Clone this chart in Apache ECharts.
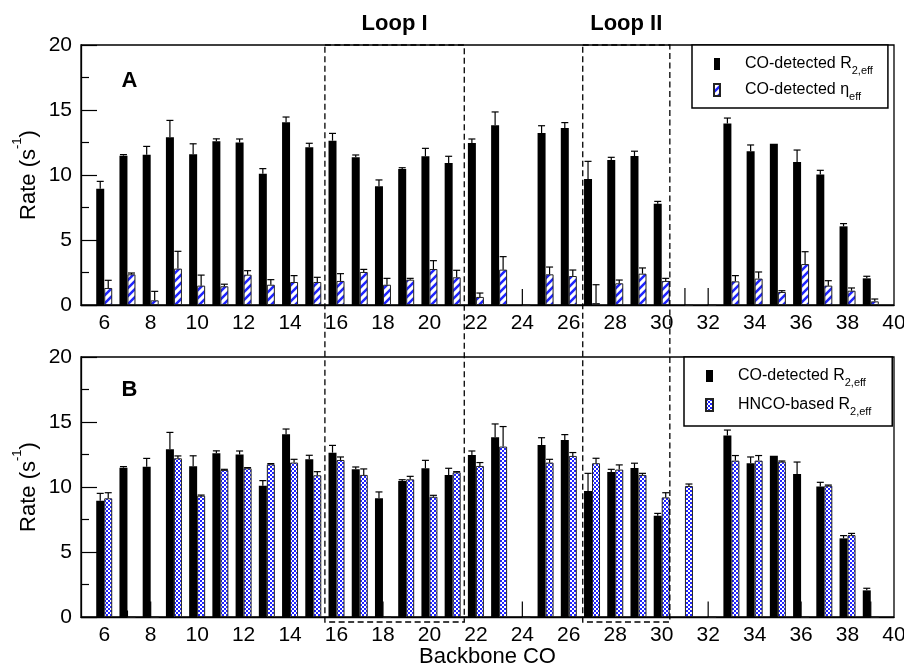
<!DOCTYPE html>
<html>
<head>
<meta charset="utf-8">
<script src="https://cdn.jsdelivr.net/npm/echarts@6/dist/echarts.min.js"></script>
<style>
  html, body { margin: 0; padding: 0; background: #fff; }
  #chart { width: 904px; height: 669px; }
</style>
</head>
<body>
<div id="chart"></div>
<script>
// Backbone carbonyl positions shown on the x axis (residues 5..40)
const residues = [5, 6, 7, 8, 9, 10, 11, 12, 13, 14, 15, 16, 17, 18, 19, 20, 21, 22, 23,
  24, 25, 26, 27, 28, 29, 30, 31, 32, 33, 34, 35, 36, 37, 38, 39, 40];

// CO-detected R2,eff (s^-1) and its error
const coR2 = [null, 8.95, 11.49, 11.56, 12.9, 11.6, 12.6, 12.5, 10.1, 14.05, 12.13, 12.64,
  11.36, 9.13, 10.46, 11.44, 10.92, 12.46, 13.82, 0, 13.23, 13.62, 9.69, 11.15, 11.46, 7.79,
  0, 0, 13.97, 11.82, 12.41, 11.0, 10.03, 6.05, 2.05, null];
const coR2Err = [null, 0.56, 0.08, 0.64, 1.3, 0.8, 0.18, 0.27, 0.39, 0.41, 0.31, 0.56,
  0.18, 0.49, 0.1, 0.61, 0.52, 0.31, 1.03, 0, 0.56, 0.41, 1.36, 0.21, 0.37, 0.18,
  0, 0, 0.41, 0.49, 0, 0.92, 0.33, 0.21, 0.16, null];

// CO-detected eta_eff (s^-1) and its error
const coEta = [null, 1.31, 2.36, 0.36, 2.8, 1.49, 1.44, 2.33, 1.56, 1.77, 1.77, 1.85,
  2.54, 1.56, 1.95, 2.77, 2.13, 0.62, 2.72, 0, 2.36, 2.23, 0.15, 1.67, 2.41, 1.85,
  0, 0, 1.82, 2.03, 1.0, 3.15, 1.49, 1.1, 0.28, null];
const coEtaErr = [null, 0.59, 0.1, 0.69, 1.33, 0.81, 0.16, 0.31, 0.39, 0.49, 0.36, 0.56,
  0.2, 0.49, 0.1, 0.64, 0.54, 0.3, 1.0, 1.23, 0.56, 0.46, 1.41, 0.25, 0.44, 0.2,
  1.3, 1.3, 0.44, 0.51, 0.1, 0.95, 0.38, 0.21, 0.18, null];

// HNCO-based R2,eff (s^-1) and its error
const hncoR2 = [null, 9.13, 0, 0, 12.21, 9.33, 11.31, 11.44, 11.75, 11.88, 10.9, 12.08,
  10.93, 0, 10.59, 9.25, 11.13, 11.62, 13.11, 0, 11.88, 12.39, 11.83, 11.34, 10.93, 9.2,
  10.08, 0, 12.03, 12.03, 11.95, 0, 10.1, 6.3, 0, null];
const hncoR2Err = [null, 0.43, 0.5, 1.2, 0.18, 0.05, 0.05, 0.05, 0.05, 0.25, 0.28, 0.23,
  0.46, 1.2, 0.23, 0.11, 0.05, 0.26, 1.54, 1.2, 0.25, 0.26, 0.38, 0.36, 0.12, 0.36,
  0.15, 1.2, 0.39, 0.39, 0.05, 1.2, 0.05, 0.13, 1.2, null];

// Rate axis ticks
const rateTicks = { min: 0, max: 20, step: 5 };

// Loop regions along the backbone (residue coordinates of the dashed boxes)
const loops = [
  { label: 'Loop I', from: 15.5, to: 21.5 },
  { label: 'Loop II', from: 26.6, to: 30.35 }
];

const NAME_R2 = 'CO-detected R2,eff';
const NAME_ETA = 'CO-detected \u03b7eff';
const NAME_HNCO = 'HNCO-based R2,eff';
const legendText = {};
legendText[NAME_R2] = ['CO-detected R', '2,eff'];
legendText[NAME_ETA] = ['CO-detected \u03b7', 'eff'];
legendText[NAME_HNCO] = ['HNCO-based R', '2,eff'];

const FONT = "'Liberation Sans', Arial, Helvetica, sans-serif";
const BLUE = '#1f24ff';

// Fill patterns: diagonal hatching and a fine checkerboard
function hatchTile() {
  const c = document.createElement('canvas');
  c.width = 8; c.height = 8;
  const g = c.getContext('2d');
  g.fillStyle = '#fff';
  g.fillRect(0, 0, 8, 8);
  g.strokeStyle = BLUE;
  g.lineWidth = 2.5;
  g.beginPath();
  g.moveTo(-2, 2); g.lineTo(2, -2);
  g.moveTo(0, 8); g.lineTo(8, 0);
  g.moveTo(6, 10); g.lineTo(10, 6);
  g.stroke();
  return c;
}
function checkerTile() {
  const c = document.createElement('canvas');
  c.width = 4; c.height = 4;
  const g = c.getContext('2d');
  g.fillStyle = '#fff';
  g.fillRect(0, 0, 4, 4);
  g.fillStyle = BLUE;
  g.fillRect(0, 0, 2, 2);
  g.fillRect(2, 2, 2, 2);
  return c;
}
const hatchFill = { image: hatchTile(), repeat: 'repeat' };
const checkerFill = { image: checkerTile(), repeat: 'repeat' };

const BAR_W = 8;

// Upward error bars; a zero-height entry gets a plain line at the residue centre
function errorRenderer(offset) {
  return function (params, api) {
    const v = api.value(1), e = api.value(2);
    if (!(e > 0)) return;
    const base = api.coord([api.value(0), v]);
    const tip = api.coord([api.value(0), v + e]);
    const style = { stroke: '#000', lineWidth: 1.2 };
    if (v === 0) {
      return { type: 'line', shape: { x1: base[0], y1: base[1], x2: base[0], y2: tip[1] }, style };
    }
    const x = base[0] + offset;
    return {
      type: 'group',
      children: [
        { type: 'line', shape: { x1: x, y1: base[1], x2: x, y2: tip[1] }, style },
        { type: 'line', shape: { x1: x - 3.5, y1: tip[1], x2: x + 3.5, y2: tip[1] }, style }
      ]
    };
  };
}
function errorData(values, errs) {
  const out = [];
  values.forEach((v, i) => { if (v != null) out.push([i, v, errs[i]]); });
  return out;
}

function xAxisFor(gridIndex, withName) {
  return {
    type: 'category', gridIndex,
    data: residues.map(String),
    boundaryGap: false,
    axisLine: { show: true, onZero: false, lineStyle: { color: '#000', width: 1.3 } },
    axisTick: { show: false },
    axisLabel: {
      interval: (i, v) => Number(v) % 2 === 0,
      fontSize: 21, fontFamily: FONT, color: '#000', margin: 8
    },
    splitLine: { show: false },
    name: withName ? 'Backbone CO' : '',
    nameLocation: 'middle', nameGap: 29, nameMoveOverlap: false,
    nameTextStyle: { fontSize: 22, fontFamily: FONT, color: '#000' }
  };
}
function yAxisFor(gridIndex) {
  return {
    type: 'value', gridIndex,
    min: rateTicks.min, max: rateTicks.max, interval: rateTicks.step,
    name: '{m|Rate (s}{sup|-1}{m|)}',
    nameLocation: 'middle', nameRotate: 90, nameGap: 41, nameMoveOverlap: false,
    nameTextStyle: {
      fontFamily: FONT, color: '#000',
      rich: {
        m: { fontSize: 22, fontFamily: FONT, color: '#000', lineHeight: 22, verticalAlign: 'bottom' },
        sup: { fontSize: 13, fontFamily: FONT, color: '#000', lineHeight: 13, padding: [0, 0, 16, 0], verticalAlign: 'bottom' }
      }
    },
    axisLine: { show: true, lineStyle: { color: '#000', width: 1.3 } },
    axisTick: { show: true, inside: true, length: 16, lineStyle: { color: '#000', width: 1.2 } },
    minorTick: { show: true, splitNumber: 2, length: 8, lineStyle: { color: '#000', width: 1.2 } },
    axisLabel: { fontSize: 21, fontFamily: FONT, color: '#000', margin: 9 },
    splitLine: { show: false },
    minorSplitLine: { show: false }
  };
}

const legendRich = {
  m: { fontSize: 16, fontFamily: FONT, color: '#000', lineHeight: 16, padding: [0, 0, 0, 20], verticalAlign: 'top' },
  s: { fontSize: 11, fontFamily: FONT, color: '#000', lineHeight: 11, padding: [9, 0, 0, 0], verticalAlign: 'top' }
};
function legendFor(names, left, top, iconW, gap, padding) {
  return {
    orient: 'vertical', left, top,
    data: names,
    icon: 'rect', itemWidth: iconW, itemHeight: 12, itemGap: gap,
    padding,
    borderColor: '#000', borderWidth: 1.5, backgroundColor: '#fff',
    selectedMode: false,
    formatter: n => '{m|' + legendText[n][0] + '}{s|' + legendText[n][1] + '}',
    textStyle: { fontSize: 16, fontFamily: FONT, color: '#000', rich: legendRich }
  };
}

const chart = echarts.init(document.getElementById('chart'), null, { renderer: 'canvas' });

const option = {
  animation: false,
  backgroundColor: '#fff',
  grid: [
    { left: 81, top: 45, width: 813, height: 260, show: true, borderColor: '#000', borderWidth: 1.3, outerBoundsMode: 'none', containLabel: false },
    { left: 81, top: 357, width: 813, height: 260, show: true, borderColor: '#000', borderWidth: 1.3, outerBoundsMode: 'none', containLabel: false }
  ],
  xAxis: [xAxisFor(0, false), xAxisFor(1, true)],
  yAxis: [yAxisFor(0), yAxisFor(1)],
  legend: [
    legendFor([NAME_R2, NAME_ETA], 692, 45, 6, 6, [11, 15, 6, 21]),
    legendFor([NAME_R2, NAME_HNCO], 684, 357, 7, 9, [11, 21, 9, 21])
  ],
  series: [
    { type: 'bar', name: NAME_R2, xAxisIndex: 0, yAxisIndex: 0, data: coR2,
      barWidth: BAR_W, barGap: '0%', itemStyle: { color: '#000' } },
    { type: 'bar', name: NAME_ETA, xAxisIndex: 0, yAxisIndex: 0, data: coEta,
      barWidth: BAR_W, barGap: '0%', itemStyle: { color: hatchFill, borderColor: '#222', borderWidth: 1 } },
    { type: 'custom', xAxisIndex: 0, yAxisIndex: 0, silent: true, z: 3,
      renderItem: errorRenderer(-BAR_W / 2), data: errorData(coR2, coR2Err) },
    { type: 'custom', xAxisIndex: 0, yAxisIndex: 0, silent: true, z: 3,
      renderItem: errorRenderer(BAR_W / 2), data: errorData(coEta, coEtaErr) },

    { type: 'bar', name: NAME_R2, xAxisIndex: 1, yAxisIndex: 1, data: coR2,
      barWidth: BAR_W, barGap: '0%', itemStyle: { color: '#000' } },
    { type: 'bar', name: NAME_HNCO, xAxisIndex: 1, yAxisIndex: 1, data: hncoR2,
      barWidth: BAR_W, barGap: '0%', itemStyle: { color: checkerFill, borderColor: '#222', borderWidth: 1 } },
    { type: 'custom', xAxisIndex: 1, yAxisIndex: 1, silent: true, z: 3,
      renderItem: errorRenderer(-BAR_W / 2), data: errorData(coR2, coR2Err) },
    { type: 'custom', xAxisIndex: 1, yAxisIndex: 1, silent: true, z: 3,
      renderItem: errorRenderer(BAR_W / 2), data: errorData(hncoR2, hncoR2Err) }
  ]
};
chart.setOption(option);

// Dashed loop boxes spanning both panels, with their titles
const x5 = chart.convertToPixel({ xAxisIndex: 0 }, String(residues[0]));
const x40 = chart.convertToPixel({ xAxisIndex: 0 }, String(residues[residues.length - 1]));
const step = (x40 - x5) / (residues[residues.length - 1] - residues[0]);
const resToX = r => x5 + (r - residues[0]) * step;
const boxTop = chart.convertToPixel({ yAxisIndex: 0 }, rateTicks.max);
const boxBottom = chart.convertToPixel({ yAxisIndex: 1 }, rateTicks.min) + 5;

const graphics = [];
loops.forEach(l => {
  const a = resToX(l.from), b = resToX(l.to);
  graphics.push({
    type: 'rect', silent: true, z: 10,
    shape: { x: a, y: boxTop, width: b - a, height: boxBottom - boxTop },
    style: { fill: 'none', stroke: '#000', lineWidth: 1.3, lineDash: [6, 3.5] }
  });
  graphics.push({
    type: 'text', silent: true, z: 10, x: (a + b) / 2, y: boxTop - 21,
    style: { text: l.label, fontSize: 22, fontWeight: 'bold', fontFamily: FONT, fill: '#000', align: 'center', verticalAlign: 'middle' }
  });
});
graphics.push({
  type: 'text', silent: true, z: 10, x: 129.5, y: 80.5,
  style: { text: 'A', fontSize: 22, fontWeight: 'bold', fontFamily: FONT, fill: '#000', align: 'center', verticalAlign: 'middle' }
});
graphics.push({
  type: 'text', silent: true, z: 10, x: 129.5, y: 389.5,
  style: { text: 'B', fontSize: 22, fontWeight: 'bold', fontFamily: FONT, fill: '#000', align: 'center', verticalAlign: 'middle' }
});
chart.setOption({ graphic: graphics });
</script>
</body>
</html>
